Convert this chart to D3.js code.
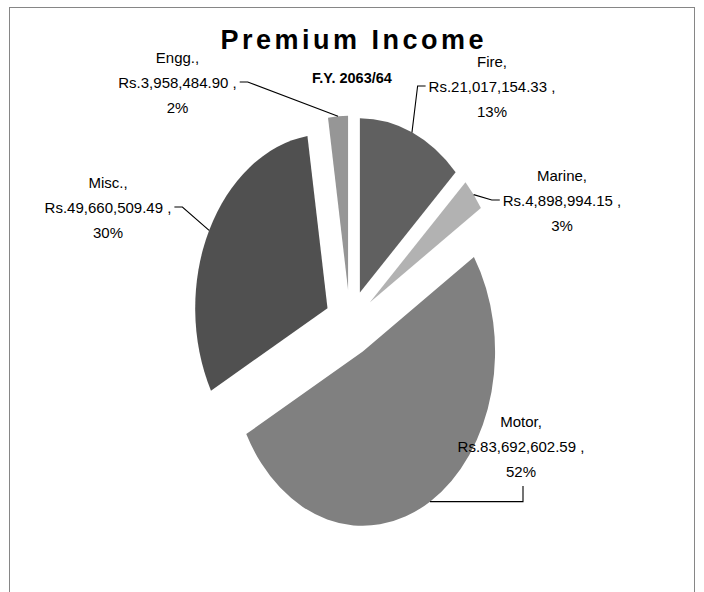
<!DOCTYPE html>
<html>
<head>
<meta charset="utf-8">
<script src="https://cdn.jsdelivr.net/npm/d3@7"></script>
<style>
  html, body { margin: 0; padding: 0; background: #ffffff; }
  svg { display: block; }
  text { font-family: "Liberation Sans Narrow", "Liberation Sans", Arial, sans-serif; fill: #000; }
</style>
</head>
<body>
<div id="chart"></div>
<script>
// ---- data ----
const categories = ["Fire", "Marine", "Motor", "Misc.", "Engg."];
const values = [21017154.33, 4898994.15, 83692602.59, 49660509.49, 3958484.90];
const percentLabels = ["13%", "3%", "52%", "30%", "2%"];
const titleText = "Premium Income";
const subtitleText = "F.Y. 2063/64";

// ---- styling / layout ----
const W = 704, H = 592;
const colors = ["#606060", "#b2b2b2", "#808080", "#505050", "#969696"];
const cx = 350, cy = 323, rx = 132.3, ry = 174.3, explode = 0.19;
const lineH = 25;
const labelLayout = [
  { x: 492,   y: 86,  side: "left"  },
  { x: 562,   y: 200, side: "left"  },
  { x: 521,   y: 446, side: "below" },
  { x: 108,   y: 207, side: "right" },
  { x: 177.5, y: 82,  side: "right" }
];

const svg = d3.select("#chart").append("svg")
  .attr("width", W).attr("height", H);

svg.append("rect").attr("width", W).attr("height", H).attr("fill", "#fff");
svg.append("rect")
  .attr("x", 9.5).attr("y", 7.5).attr("width", 685).attr("height", 600)
  .attr("fill", "none").attr("stroke", "#868686").attr("stroke-width", 1);

const color = d3.scaleOrdinal().domain(categories).range(colors);
const pie = d3.pie().sort(null).value(d => d.value).startAngle(0).endAngle(2 * Math.PI);
const rows = categories.map((c, i) => ({ name: c, value: values[i], pct: percentLabels[i], i }));
const arcs = pie(rows);
const arcGen = d3.arc().innerRadius(0).outerRadius(ry);
const sx = rx / ry;

function ellPoint(ax, ay, ang, k) {
  return [ax + k * rx * Math.sin(ang), ay - k * ry * Math.cos(ang)];
}

const slices = svg.append("g");
arcs.forEach(a => {
  const mid = (a.startAngle + a.endAngle) / 2;
  const [ax, ay] = ellPoint(cx, cy, mid, explode);
  a.apex = [ax, ay];
  a.mid = mid;
  slices.append("path")
    .attr("d", arcGen(a))
    .attr("transform", `translate(${ax},${ay}) scale(${sx},1)`)
    .attr("fill", color(a.data.name));
});

// labels
const fmt = d3.format(",.2f");
const labels = svg.append("g").attr("font-size", 15);
arcs.forEach((a, i) => {
  const L = labelLayout[i];
  const g = labels.append("g");
  const lines = [a.data.name + ",", "Rs." + fmt(a.data.value) + " ,", a.data.pct];
  let w2 = 0;
  lines.forEach((t, k) => {
    const tx = g.append("text")
      .attr("x", L.x).attr("y", L.y + (k - 1) * lineH)
      .attr("text-anchor", "middle")
      .attr("dominant-baseline", "central")
      .text(t);
    if (k === 1) w2 = tx.node().getComputedTextLength();
  });
  const P = ellPoint(a.apex[0], a.apex[1], a.mid, 1);
  let pts;
  if (L.side === "left") {
    const ex = L.x - w2 / 2 - 3;
    pts = [P, [ex - 8, L.y], [ex, L.y]];
  } else if (L.side === "right") {
    const ex = L.x + w2 / 2 + 3;
    pts = [P, [ex + 8, L.y], [ex, L.y]];
  } else {
    pts = [P, [L.x + 2, P[1]], [L.x + 2, L.y + lineH + 15]];
  }
  svg.append("path")
    .attr("d", d3.line()(pts))
    .attr("fill", "none").attr("stroke", "#000").attr("stroke-width", 1.1);
});

// title
svg.append("text")
  .attr("x", 352).attr("y", 40)
  .attr("text-anchor", "middle").attr("dominant-baseline", "central")
  .attr("font-size", 27).attr("font-weight", "bold")
  .attr("textLength", 263).attr("lengthAdjust", "spacing")
  .text(titleText);
svg.append("text")
  .attr("x", 352).attr("y", 78)
  .attr("text-anchor", "middle").attr("dominant-baseline", "central")
  .attr("font-size", 14.5).attr("font-weight", "bold")
  .text(subtitleText);
</script>
</body>
</html>
